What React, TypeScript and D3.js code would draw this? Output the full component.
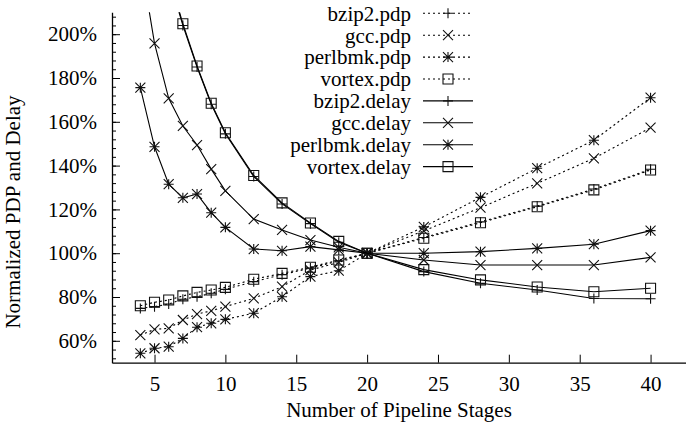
import React, { useEffect, useRef } from "react";
import * as d3 from "d3";

const stages = [4, 5, 6, 7, 8, 9, 10, 12, 14, 16, 18, 20, 24, 28, 32, 36, 40];

const bzip2Pdp = [74.8, 75.6, 76.8, 79.0, 80.1, 81.7, 83.5, 87.0, 90.2, 93.2, 96.5, 100, 107.2, 114.3, 121.5, 129.3, 138.3];
const gccPdp = [62.6, 65.2, 65.7, 69.5, 72.2, 73.7, 75.6, 79.4, 84.7, 92.3, 95.8, 100, 110.2, 120.8, 131.9, 143.3, 157.3];
const perlbmkPdp = [54.3, 56.6, 57.3, 61.1, 66.2, 68.0, 69.8, 72.6, 80.1, 89.3, 92.0, 100, 112.0, 125.5, 138.8, 151.6, 171.0];
const vortexPdp = [76.0, 77.6, 78.6, 80.5, 82.1, 83.2, 84.4, 88.1, 90.8, 93.6, 96.9, 100, 106.8, 113.9, 121.2, 128.9, 138.0];

const bzip2Delay = [318, 264, 226, 204, 185, 168, 154.5, 135, 122.5, 113.5, 105, 100, 91.6, 86.3, 83.2, 79.3, 79.2];
const gccDelay = [235, 195.8, 170.7, 158.1, 149.4, 138.4, 128.5, 115.6, 110.6, 106, 102.7, 100, 96.9, 94.6, 94.6, 94.6, 98.1];
const perlbmkDelay = [175.6, 148.6, 131.5, 125.3, 127, 118.5, 111.8, 101.9, 101.1, 103, 101.5, 100, 100, 100.7, 102.2, 104.1, 110.3];
const vortexDelay = [320, 266, 227, 204.8, 185.5, 168.5, 155, 135.5, 123, 113.8, 105.4, 100, 92.5, 87.8, 84.6, 82.4, 84.0];

const seriesNames = [
  "bzip2.pdp", "gcc.pdp", "perlbmk.pdp", "vortex.pdp",
  "bzip2.delay", "gcc.delay", "perlbmk.delay", "vortex.delay",
];
const seriesValues = [
  bzip2Pdp, gccPdp, perlbmkPdp, vortexPdp,
  bzip2Delay, gccDelay, perlbmkDelay, vortexDelay,
];
const seriesMarkers = ["plus", "cross", "star", "box", "plus", "cross", "star", "box"];

const yMajorTicks = [60, 80, 100, 120, 140, 160, 180, 200];
const xTicks = [5, 10, 15, 20, 25, 30, 35, 40];

const W = 686;
const H = 424;
const FONT = `"Liberation Serif"`;

// draws one point symbol, gnuplot style
const drawMarker = (g, kind: string, cx: number, cy: number) => {
  const r = 5;
  const p = d3.path();
  if (kind === "plus" || kind === "star") {
    p.moveTo(cx - r, cy); p.lineTo(cx + r, cy);
    p.moveTo(cx, cy - r); p.lineTo(cx, cy + r);
  }
  if (kind === "cross" || kind === "star") {
    p.moveTo(cx - r, cy - r); p.lineTo(cx + r, cy + r);
    p.moveTo(cx - r, cy + r); p.lineTo(cx + r, cy - r);
  }
  if (kind === "box") {
    p.rect(cx - r, cy - r, 2 * r, 2 * r);
  }
  g.append("path")
    .attr("d", p.toString())
    .attr("fill", "none")
    .attr("stroke", "#111")
    .attr("stroke-width", 1.1);
};

const drawChart = (el: SVGSVGElement) => {
  const svg = d3.select(el);
  svg.selectAll("*").remove();

  const left = 112;
  const top = 12.3;
  const bottom = 362.7;

  const x = d3.scaleLinear().domain([2, 42.5]).range([left, W]);
  const y = d3.scaleLinear().domain([50, 210]).range([bottom, top]);

  svg.append("defs")
    .append("clipPath")
    .attr("id", "plot-clip")
    .append("rect")
    .attr("x", left)
    .attr("y", top)
    .attr("width", W - left)
    .attr("height", bottom - top);

  // minor y ticks every 4%
  svg.append("g")
    .attr("transform", `translate(${left},0)`)
    .call(
      d3.axisLeft(y)
        .tickValues(d3.range(52, 210, 4))
        .tickSizeInner(-4)
        .tickSizeOuter(0)
        .tickFormat(() => ""),
    )
    .call((g) => g.select(".domain").remove());

  // major y ticks
  const yAxis = svg.append("g")
    .attr("transform", `translate(${left},0)`)
    .call(
      d3.axisLeft(y)
        .tickValues(yMajorTicks)
        .tickSizeInner(-8)
        .tickSizeOuter(0)
        .tickPadding(15)
        .tickFormat((d) => `${d}%`),
    );
  yAxis.select(".domain").attr("stroke-width", 1.3);

  const xAxis = svg.append("g")
    .attr("transform", `translate(0,${bottom})`)
    .call(
      d3.axisBottom(x)
        .tickValues(xTicks)
        .tickSizeInner(-8)
        .tickSizeOuter(0)
        .tickPadding(13),
    );
  xAxis.select(".domain").attr("stroke-width", 1.3);

  svg.selectAll(".tick text").attr("fill", "#000");
  svg.selectAll(".tick line").attr("stroke", "#000");

  svg.append("text")
    .attr("x", (left + W) / 2)
    .attr("y", 417)
    .attr("text-anchor", "middle")
    .text("Number of Pipeline Stages");

  svg.append("text")
    .attr("transform", `translate(20,212) rotate(-90)`)
    .attr("text-anchor", "middle")
    .text("Normalized PDP and Delay");

  const line = d3.line<number>()
    .x((_, i) => x(stages[i]))
    .y((d) => y(d));

  const plot = svg.append("g").attr("clip-path", "url(#plot-clip)");

  seriesValues.forEach((vals, si) => {
    const dotted = si < 4;
    plot.append("path")
      .datum(vals)
      .attr("d", line)
      .attr("fill", "none")
      .attr("stroke", "#000")
      .attr("stroke-width", 1.1)
      .attr("stroke-dasharray", dotted ? "2,3" : null);
    const mg = plot.append("g");
    vals.forEach((v, i) => drawMarker(mg, seriesMarkers[si], x(stages[i]), y(v)));
  });

  // legend
  const legend = svg.append("g");
  seriesNames.forEach((name, si) => {
    const ly = 13.3 + si * 21.9;
    legend.append("text")
      .attr("x", 411)
      .attr("y", ly)
      .attr("dy", "0.35em")
      .attr("text-anchor", "end")
      .text(name);
    legend.append("line")
      .attr("x1", 423)
      .attr("x2", 473)
      .attr("y1", ly)
      .attr("y2", ly)
      .attr("stroke", "#000")
      .attr("stroke-width", 1.1)
      .attr("stroke-dasharray", si < 4 ? "2,3" : null);
    drawMarker(legend, seriesMarkers[si], 448, ly);
  });

  // every text in serif, like the original
  svg.selectAll("text")
    .style("font-family", FONT)
    .style("font-size", "21px");
};

export default function App() {
  const ref = useRef<SVGSVGElement>(null);

  useEffect(() => {
    if (ref.current) drawChart(ref.current);
  }, []);

  return (
    <svg
      ref={ref}
      width={W}
      height={H}
      style={{ position: "absolute", left: 0, top: 0, background: "#fff" }}
    />
  );
}
